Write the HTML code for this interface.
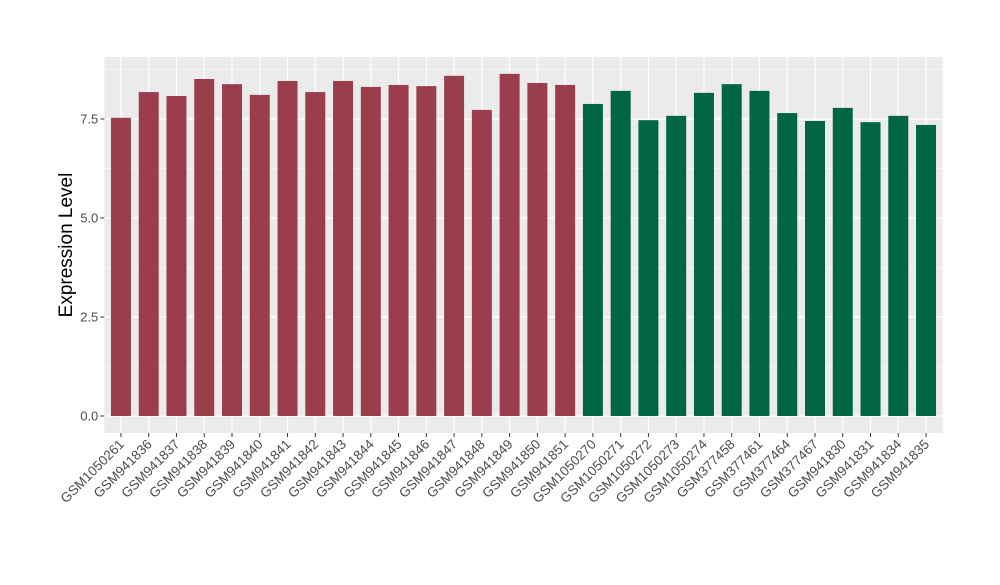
<!DOCTYPE html>
<html><head><meta charset="utf-8"><style>
body{margin:0;background:#fff;font-family:"Liberation Sans",Arial,sans-serif}
</style></head><body>
<svg id="chart" width="1000" height="580" xmlns="http://www.w3.org/2000/svg">
<rect x="104.3" y="57" width="838.4" height="376" fill="#EBEBEB"/>
<g id="grid"></g><g id="bars"></g><g id="yaxis"></g><g id="xaxis"></g>
<text transform="translate(72,245) rotate(-90)" text-anchor="middle" font-size="19" fill="#000">Expression Level</text>
</svg>
<script>
const categories=["GSM1050261","GSM941836","GSM941837","GSM941838","GSM941839","GSM941840","GSM941841","GSM941842","GSM941843","GSM941844","GSM941845","GSM941846","GSM941847","GSM941848","GSM941849","GSM941850","GSM941851","GSM1050270","GSM1050271","GSM1050272","GSM1050273","GSM1050274","GSM377458","GSM377461","GSM377464","GSM377467","GSM941830","GSM941831","GSM941834","GSM941835"];
const values=[7.53,8.18,8.08,8.51,8.38,8.11,8.46,8.18,8.46,8.31,8.36,8.33,8.59,7.73,8.64,8.41,8.36,7.88,8.21,7.47,7.58,8.16,8.38,8.21,7.65,7.45,7.78,7.42,7.58,7.35];
const groups=[0,0,0,0,0,0,0,0,0,0,0,0,0,0,0,0,0,1,1,1,1,1,1,1,1,1,1,1,1,1];
const yTicks=[0,2.5,5,7.5];
const yTickLabels=["0.0","2.5","5.0","7.5"];
const NS="http://www.w3.org/2000/svg";
const pL=104.3,pR=942.7,pT=57,pB=433;
const y0=416,pxPerUnit=39.6;
function yScale(v){return y0-v*pxPerUnit;}
const step=(pR-pL)/(categories.length+0.2);
function xScale(i){return pL+step*0.6+i*step;}
const colors=["#9A3E4E","#006644"];
function mk(tag,attrs,parent){const e=document.createElementNS(NS,tag);for(const k in attrs)e.setAttribute(k,attrs[k]);parent.appendChild(e);return e;}
const grid=document.getElementById('grid'),bars=document.getElementById('bars'),ya=document.getElementById('yaxis'),xa=document.getElementById('xaxis');
for(let i=0;i<yTicks.length;i++){const m=yTicks[i]+1.25;
if(yScale(m)<pT)continue;
const g=mk('line',{x1:pL,x2:pR,y1:yScale(m),y2:yScale(m),stroke:'#fff','stroke-width':0.6},grid);

}
yTicks.forEach((t,i)=>{
const g=mk('line',{x1:pL,x2:pR,y1:yScale(t),y2:yScale(t),stroke:'#fff','stroke-width':1.2},grid);


const tk=mk('line',{x1:pL-4,x2:pL,y1:yScale(t),y2:yScale(t),stroke:'#333','stroke-width':1},ya);


const tx=mk('text',{x:pL-6,y:yScale(t)+4.5,'text-anchor':'end','font-size':13,fill:'#4d4d4d'},ya);
tx.textContent=yTickLabels[i];

});
categories.forEach((c,i)=>{
const cx=xScale(i);
const g=mk('line',{x1:cx,x2:cx,y1:pT,y2:pB,stroke:'#fff','stroke-width':1.2},grid);


const w=step*0.72;
const b=mk('rect',{x:cx-w/2,y:yScale(values[i]),width:w,height:y0-yScale(values[i]),fill:colors[groups[i]]},bars);


const tk=mk('line',{x1:cx,x2:cx,y1:pB,y2:pB+4,stroke:'#333','stroke-width':1},xa);


const tx=mk('text',{x:cx+4,y:pB+12,'text-anchor':'end','font-size':13.5,fill:'#4d4d4d',transform:`rotate(-45 ${cx+4} ${pB+12})`},xa);
tx.textContent=c;

});
</script>
</body></html>
